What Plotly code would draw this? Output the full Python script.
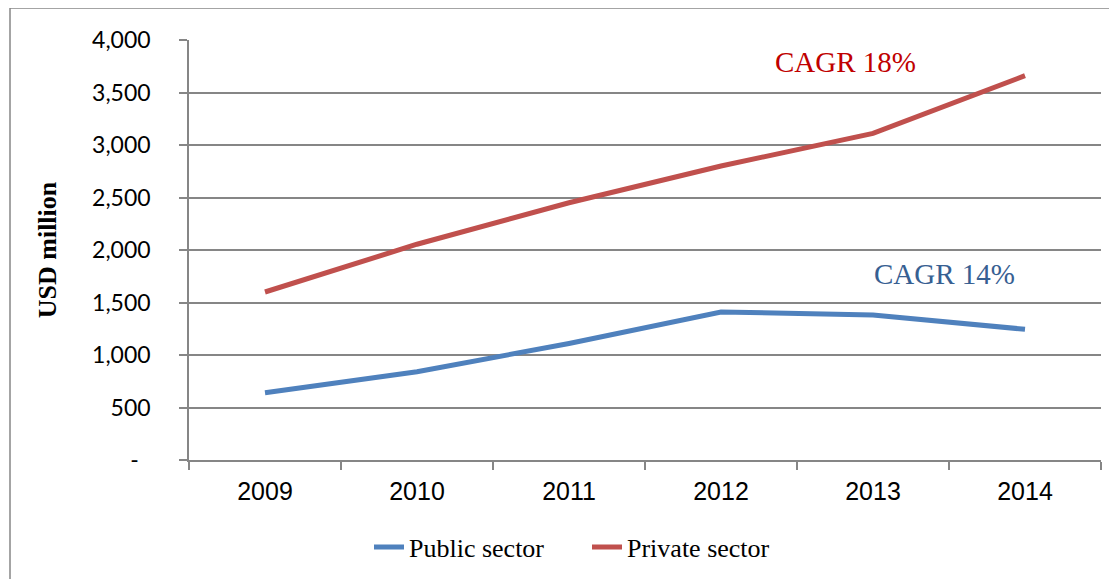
import plotly.graph_objects as go

years = ["2009", "2010", "2011", "2012", "2013", "2014"]
public_sector = [640, 840, 1110, 1410, 1380, 1245]
private_sector = [1600, 2055, 2450, 2800, 3110, 3660]
y_tickvals = [0, 500, 1000, 1500, 2000, 2500, 3000, 3500, 4000]
y_ticktext = ["-\u00a0\u00a0", "500", "1,000", "1,500", "2,000", "2,500", "3,000", "3,500", "4,000"]

OFF = 8  # page body margin offset
W, H = 1117, 579
L, R, T, B = 189 - OFF, 16 + OFF, 40 - OFF, 119 + OFF
pw, ph = W - L - R, H - T - B

def px_x(x):
    return (x - OFF - L) / pw

def px_y(y):
    return (H - B - (y - OFF)) / ph

fig = go.Figure()
fig.add_trace(go.Scatter(x=years, y=public_sector, mode="lines", name="Public sector",
                         line=dict(color="#4F81BD", width=5)))
fig.add_trace(go.Scatter(x=years, y=private_sector, mode="lines", name="Private sector",
                         line=dict(color="#C0504D", width=5)))

fig.add_annotation(text="CAGR 18%", x=px_x(845), y=3790, xref="paper", yref="y",
                   xanchor="center", yanchor="middle",
                   showarrow=False, font=dict(family="Liberation Serif", size=29, color="#C00000"))
fig.add_annotation(text="CAGR 14%", x=px_x(944), y=1771, xref="paper", yref="y",
                   xanchor="center", yanchor="middle",
                   showarrow=False, font=dict(family="Liberation Serif", size=29, color="#376092"))

# outer chart border
fig.add_shape(type="rect", xref="paper", yref="paper",
              x0=px_x(10), x1=px_x(1140), y0=px_y(620), y1=px_y(8),
              line=dict(color="#868686", width=1.5), fillcolor="rgba(0,0,0,0)", layer="below")

fig.update_layout(
    width=W, height=H,
    margin=dict(l=L, r=R, t=T, b=B, autoexpand=False),
    paper_bgcolor="white", plot_bgcolor="white",
    showlegend=True,
    legend=dict(orientation="h", x=px_x(587), xanchor="center", y=px_y(547), yanchor="middle",
                font=dict(family="Liberation Serif", size=26, color="black"),
                itemwidth=30, entrywidth=173, entrywidthmode="pixels",
                tracegroupgap=0, bgcolor="rgba(0,0,0,0)"),
    xaxis=dict(type="category", range=[-0.5, 5.5], tickson="boundaries", ticks="outside", ticklen=8,
               tickcolor="#868686", tickwidth=1.5, showline=True, linecolor="#868686", linewidth=1.5,
               showgrid=False, tickfont=dict(family="Liberation Sans", size=25, color="black"),
               ticklabelstandoff=8, fixedrange=True, automargin=False),
    yaxis=dict(range=[0, 4000], tickvals=y_tickvals, ticktext=y_ticktext,
               ticks="outside", ticklen=8, tickcolor="#868686", tickwidth=1.5,
               showline=True, linecolor="#868686", linewidth=1.5,
               showgrid=True, gridcolor="#868686", gridwidth=1.5, zeroline=False,
               tickfont=dict(family="Lato", size=23, color="black"),
               ticklabelstandoff=24, automargin=False,
               title=dict(text="<b>USD million</b>", standoff=28,
                          font=dict(family="Liberation Serif", size=26, color="black"))),
)

fig.write_html("out.html")
